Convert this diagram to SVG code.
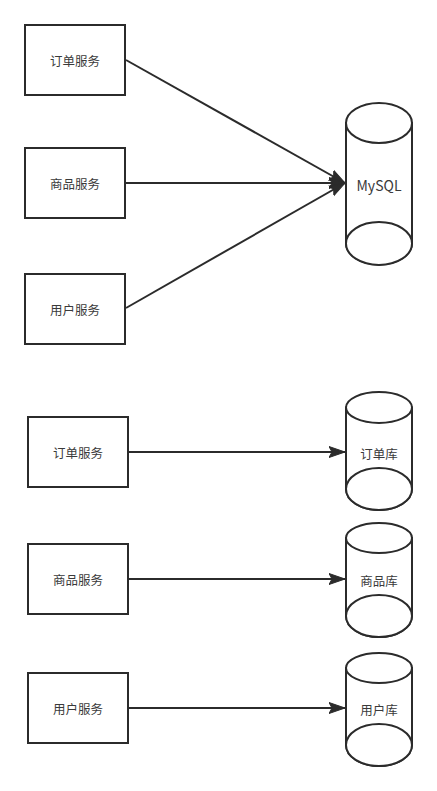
<svg xmlns="http://www.w3.org/2000/svg" width="437" height="791" viewBox="0 0 437 791">
<defs>
<style>
.box{fill:#fff;stroke:#2b2b2b;stroke-width:2}
.cyl{fill:#fff;stroke:#2b2b2b;stroke-width:2}
.lbl{font-family:"Noto Sans CJK SC","Noto Sans",sans-serif;font-size:12.5px;fill:#3a3a3a;text-anchor:middle;dominant-baseline:central}
.edge{fill:none;stroke:#2b2b2b;stroke-width:2}
</style>
<marker id="arr" markerUnits="userSpaceOnUse" markerWidth="20" markerHeight="14" viewBox="0 -7 20 14" refX="16" refY="0" orient="auto">
<path d="M0,-5.5 L16,0 L0,5.5 L3,0 Z" fill="#2b2b2b" stroke="#2b2b2b" stroke-width="1"/>
</marker>
</defs>
<rect width="437" height="791" fill="#fff"/>
<g id="connectors">
<line class="edge" x1="126" y1="60" x2="345" y2="183" marker-end="url(#arr)"/>
<line class="edge" x1="126" y1="183" x2="345" y2="183" marker-end="url(#arr)"/>
<line class="edge" x1="126" y1="308" x2="345" y2="183" marker-end="url(#arr)"/>
<line class="edge" x1="129" y1="452" x2="345" y2="452" marker-end="url(#arr)"/>
<line class="edge" x1="129" y1="579" x2="345" y2="579" marker-end="url(#arr)"/>
<line class="edge" x1="129" y1="708" x2="345" y2="708" marker-end="url(#arr)"/>
</g>
<g id="svc-order-1"><rect class="box" x="25" y="25" width="100" height="70"/><text class="lbl" x="75" y="60">订单服务</text></g>
<g id="svc-goods-1"><rect class="box" x="25" y="148" width="100" height="70"/><text class="lbl" x="75" y="183">商品服务</text></g>
<g id="svc-user-1"><rect class="box" x="25" y="274" width="100" height="70"/><text class="lbl" x="75" y="309">用户服务</text></g>
<g id="db-mysql">
<path class="cyl" d="M346,123 L346,243 A33,21.5 0 0 0 412,243 L412,123 Z"/>
<ellipse class="cyl" cx="379" cy="243.5" rx="33" ry="21.5"/>
<ellipse class="cyl" cx="379" cy="123" rx="33" ry="20"/>
<text class="lbl" x="379" y="185" style="font-size:14px">MySQL</text>
</g>
<g id="svc-order-2"><rect class="box" x="28" y="417" width="100" height="70"/><text class="lbl" x="78" y="452">订单服务</text></g>
<g id="svc-goods-2"><rect class="box" x="28" y="544" width="100" height="70"/><text class="lbl" x="78" y="579">商品服务</text></g>
<g id="svc-user-2"><rect class="box" x="28" y="673" width="100" height="70"/><text class="lbl" x="78" y="708">用户服务</text></g>
<g id="db-order">
<path class="cyl" d="M346,407.5 L346,489 A33,21 0 0 0 412,489 L412,407.5 Z"/>
<ellipse class="cyl" cx="379" cy="489" rx="33" ry="21"/>
<ellipse class="cyl" cx="379" cy="407.5" rx="33" ry="15.5"/>
<text class="lbl" x="379" y="453">订单库</text>
</g>
<g id="db-goods">
<path class="cyl" d="M346,538 L346,616 A33,21 0 0 0 412,616 L412,538 Z"/>
<ellipse class="cyl" cx="379" cy="616" rx="33" ry="21"/>
<ellipse class="cyl" cx="379" cy="538" rx="33" ry="15"/>
<text class="lbl" x="379" y="580">商品库</text>
</g>
<g id="db-user">
<path class="cyl" d="M346,668 L346,745 A33,21 0 0 0 412,745 L412,668 Z"/>
<ellipse class="cyl" cx="379" cy="745" rx="33" ry="21"/>
<ellipse class="cyl" cx="379" cy="668" rx="33" ry="15"/>
<text class="lbl" x="379" y="709">用户库</text>
</g>
</svg>
